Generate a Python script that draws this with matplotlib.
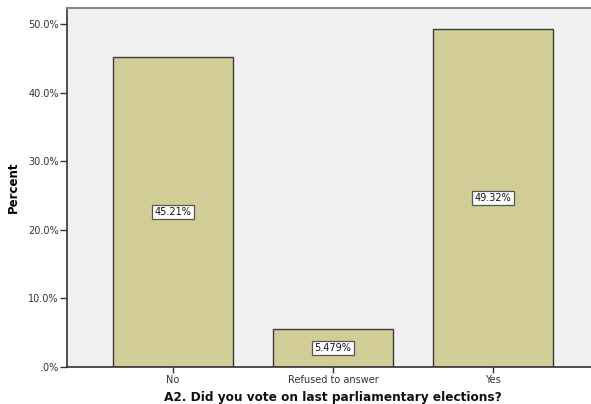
import matplotlib
matplotlib.use("Agg")
import matplotlib.pyplot as plt

categories = ["No", "Refused to answer", "Yes"]
values = [45.21, 5.479, 49.32]
value_labels = ["45.21%", "5.479%", "49.32%"]
yticks = [0, 10, 20, 30, 40, 50]
ytick_labels = [".0%", "10.0%", "20.0%", "30.0%", "40.0%", "50.0%"]

plt.rcParams['font.family'] = ['DejaVu Sans']

W, H = 591, 404
fig = plt.figure(figsize=(W/100, H/100), dpi=100)
fig.patch.set_facecolor("white")
left, right, top, bottom = 67, 599, 8, 367
ax = fig.add_axes([left/W, 1 - bottom/H, (right-left)/W, (bottom-top)/H])
ax.set_facecolor("#F0F1F0")

x = list(range(len(categories)))
bars = ax.bar(x, values, width=0.75, color="#D2CD96", edgecolor="#3C3C3C", linewidth=1.0, zorder=2)
ax.set_xlim(-0.6625, 2.6625)
ax.set_ylim(0, 52.4)

for xi, v, lab in zip(x, values, value_labels):
    ax.text(xi, v/2, lab, ha="center", va="center", fontsize=7, color="#111111",
            bbox=dict(boxstyle="square,pad=0.22", facecolor="white", edgecolor="#555555", linewidth=0.9),
            zorder=3)

ax.set_yticks(yticks)
ax.set_yticklabels(ytick_labels)
ax.set_xticks(x)
ax.set_xticklabels(categories)
ax.tick_params(axis="y", length=5, width=1, color="#333333", labelsize=7, labelcolor="#333333", pad=1)
ax.tick_params(axis="x", length=4, width=1, color="#333333", labelsize=7, labelcolor="#333333", pad=2)

for s in ["left", "bottom"]:
    ax.spines[s].set_color("#333333")
    ax.spines[s].set_linewidth(1.2)
ax.spines["top"].set_color("#888888")
ax.spines["top"].set_linewidth(1.5)
ax.spines["right"].set_visible(False)

ax.set_ylabel("Percent", fontsize=8.5, fontweight="bold", labelpad=6)
fig.text(333/W, 1 - 397/H, "A2. Did you vote on last parliamentary elections?", ha="center", va="center",
         fontsize=8.7, fontweight="bold", color="#111111")

fig.savefig("out.png", dpi=100)
